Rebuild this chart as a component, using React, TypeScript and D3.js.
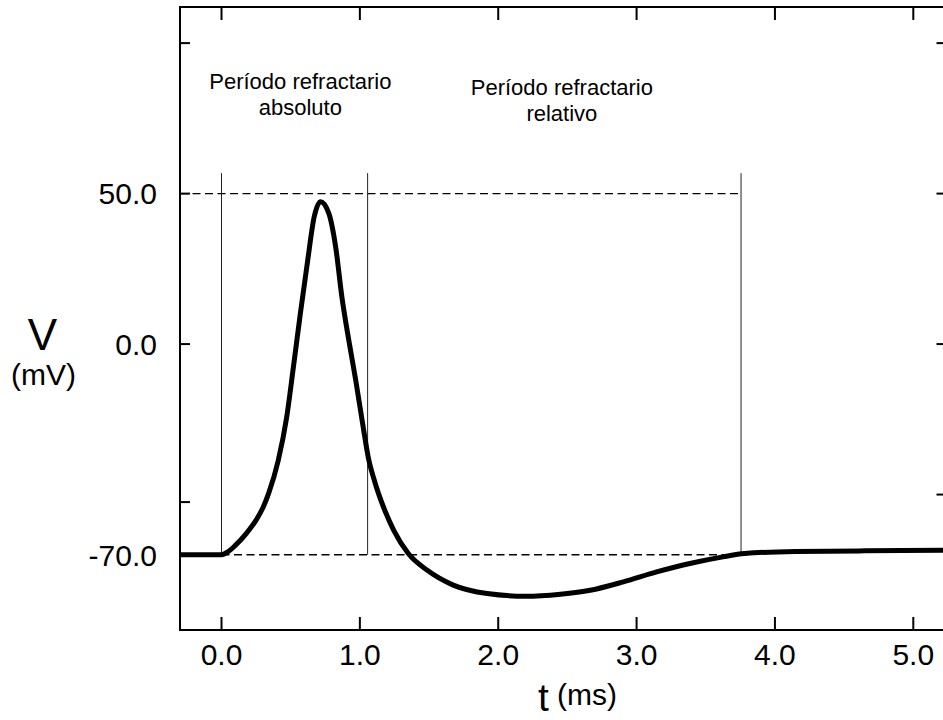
import React from "react";
import * as d3 from "d3";

// ---- data ----
const timeMs = [-0.3, 0, 0.05, 0.1, 0.18, 0.25, 0.3, 0.34, 0.41, 0.47, 0.52, 0.57, 0.62, 0.67, 0.715, 0.775, 0.825, 0.87, 0.92, 0.97, 1.02, 1.065, 1.1, 1.135, 1.185, 1.245, 1.35, 1.485, 1.675, 1.92, 2.2, 2.45, 2.665, 2.905, 3.145, 3.385, 3.625, 3.78, 4.15, 4.65, 5.24];
const voltage = [-70, -70, -68.9, -66.9, -62.9, -58.5, -54.3, -49.7, -38.7, -24.6, -7.5, 10.2, 26.8, 42.3, 47.3, 43.5, 32.3, 15.7, 1.3, -12, -26.4, -38.6, -44.6, -49.7, -55.8, -61.9, -69.6, -75.1, -80.1, -82.9, -83.8, -83.1, -81.8, -79, -75.7, -72.9, -70.7, -69.6, -68.9, -68.7, -68.5];

const xTicks = [0, 1, 2, 3, 4, 5];
const xTickLabels = ["0.0", "1.0", "2.0", "3.0", "4.0", "5.0"];
const yTicksLeft = [100, 50, 0, -52.5];
const yTicksRight = [100, 50, 0, -50];
const yLabelValues = [50, 0, -70];
const yLabelTexts = ["50.0", "0.0", "-70.0"];

const markerTimes = [0, 1.056, 3.755];
const markerTop = 56.8;
const restV = -70;
const peakRefV = 50;

const labelAbs = ["Período refractario", "absoluto"];
const labelRel = ["Período refractario", "relativo"];
const labelAbsT = 0.57;
const labelRelT = 2.46;

const xDomain = [-0.3, 5.24];
const yDomain = [-95, 112];

const W = 943;
const H = 720;

export default function App() {
  const x = d3.scaleLinear().domain(xDomain).range([180, 946.5]);
  const y = d3.scaleLinear().domain(yDomain).range([630, 7]);

  const pts = timeMs.map((t, i) => [t, voltage[i]] as [number, number]);
  const line = d3
    .line<[number, number]>()
    .x((d) => x(d[0]))
    .y((d) => y(d[1]))
    .curve(d3.curveMonotoneX);

  const font = "'Liberation Sans', Arial, Helvetica, sans-serif";
  const x0 = x.range()[0];
  const x1 = x.range()[1];
  const y0 = y.range()[0];
  const y1 = y.range()[1];

  return (
    <svg
      width={W}
      height={H}
      style={{ position: "absolute", left: 0, top: 0, background: "#fff" }}
      fontFamily={font}
    >
      <rect x={0} y={0} width={W} height={H} fill="#fff" />
      {/* dashed reference lines */}
      <line
        x1={x0}
        x2={x(markerTimes[2])}
        y1={y(peakRefV)}
        y2={y(peakRefV)}
        stroke="#000"
        strokeWidth={1.3}
        strokeDasharray="8,4.5"
      />
      <line
        x1={x(markerTimes[0])}
        x2={x(markerTimes[2])}
        y1={y(restV)}
        y2={y(restV)}
        stroke="#000"
        strokeWidth={1.3}
        strokeDasharray="8,4.5"
      />
      {/* vertical markers */}
      {markerTimes.map((t, i) => (
        <line
          key={"m" + i}
          x1={x(t)}
          x2={x(t)}
          y1={y(markerTop)}
          y2={y(restV)}
          stroke="#222"
          strokeWidth={1}
        />
      ))}
      {/* curve */}
      <path d={line(pts) || ""} fill="none" stroke="#000" strokeWidth={5} strokeLinejoin="round" />
      {/* frame */}
      <rect x={x0} y={y1} width={x1 - x0} height={y0 - y1} fill="none" stroke="#000" strokeWidth={2} />
      {/* x ticks */}
      {xTicks.map((t, i) => (
        <g key={"xt" + i}>
          <line x1={x(t)} x2={x(t)} y1={y0} y2={y0 - 13} stroke="#000" strokeWidth={2} />
          <line x1={x(t)} x2={x(t)} y1={y1} y2={y1 + 13} stroke="#000" strokeWidth={2} />
          <text x={x(t)} y={665} textAnchor="middle" fontSize={30} fill="#000">
            {xTickLabels[i]}
          </text>
        </g>
      ))}
      {/* y ticks */}
      {yTicksLeft.map((v, i) => (
        <line key={"ytl" + i} x1={x0} x2={x0 + 10} y1={y(v)} y2={y(v)} stroke="#000" strokeWidth={2} />
      ))}
      {yTicksRight.map((v, i) => (
        <line key={"ytr" + i} x1={x1} x2={x1 - 10} y1={y(v)} y2={y(v)} stroke="#000" strokeWidth={2} />
      ))}
      {yLabelValues.map((v, i) => (
        <text
          key={"yl" + i}
          x={157}
          y={y(v)}
          dy="0.36em"
          textAnchor="end"
          fontSize={30}
          fill="#000"
        >
          {yLabelTexts[i]}
        </text>
      ))}
      {/* axis titles */}
      <text x={42.5} y={350} textAnchor="middle" fontSize={44} fill="#000">
        V
      </text>
      <text x={43.5} y={385} textAnchor="middle" fontSize={30} fill="#000">
        (mV)
      </text>
      <text x={538} y={711} fontSize={39} fill="#000">
        t
      </text>
      <text x={557} y={705} fontSize={30} fill="#000">
        (ms)
      </text>
      {/* annotations */}
      <text x={x(labelAbsT)} y={89} textAnchor="middle" fontSize={22} fill="#000">
        {labelAbs[0]}
      </text>
      <text x={x(labelAbsT)} y={115} textAnchor="middle" fontSize={22} fill="#000">
        {labelAbs[1]}
      </text>
      <text x={x(labelRelT)} y={95} textAnchor="middle" fontSize={22} fill="#000">
        {labelRel[0]}
      </text>
      <text x={x(labelRelT)} y={121} textAnchor="middle" fontSize={22} fill="#000">
        {labelRel[1]}
      </text>
    </svg>
  );
}
